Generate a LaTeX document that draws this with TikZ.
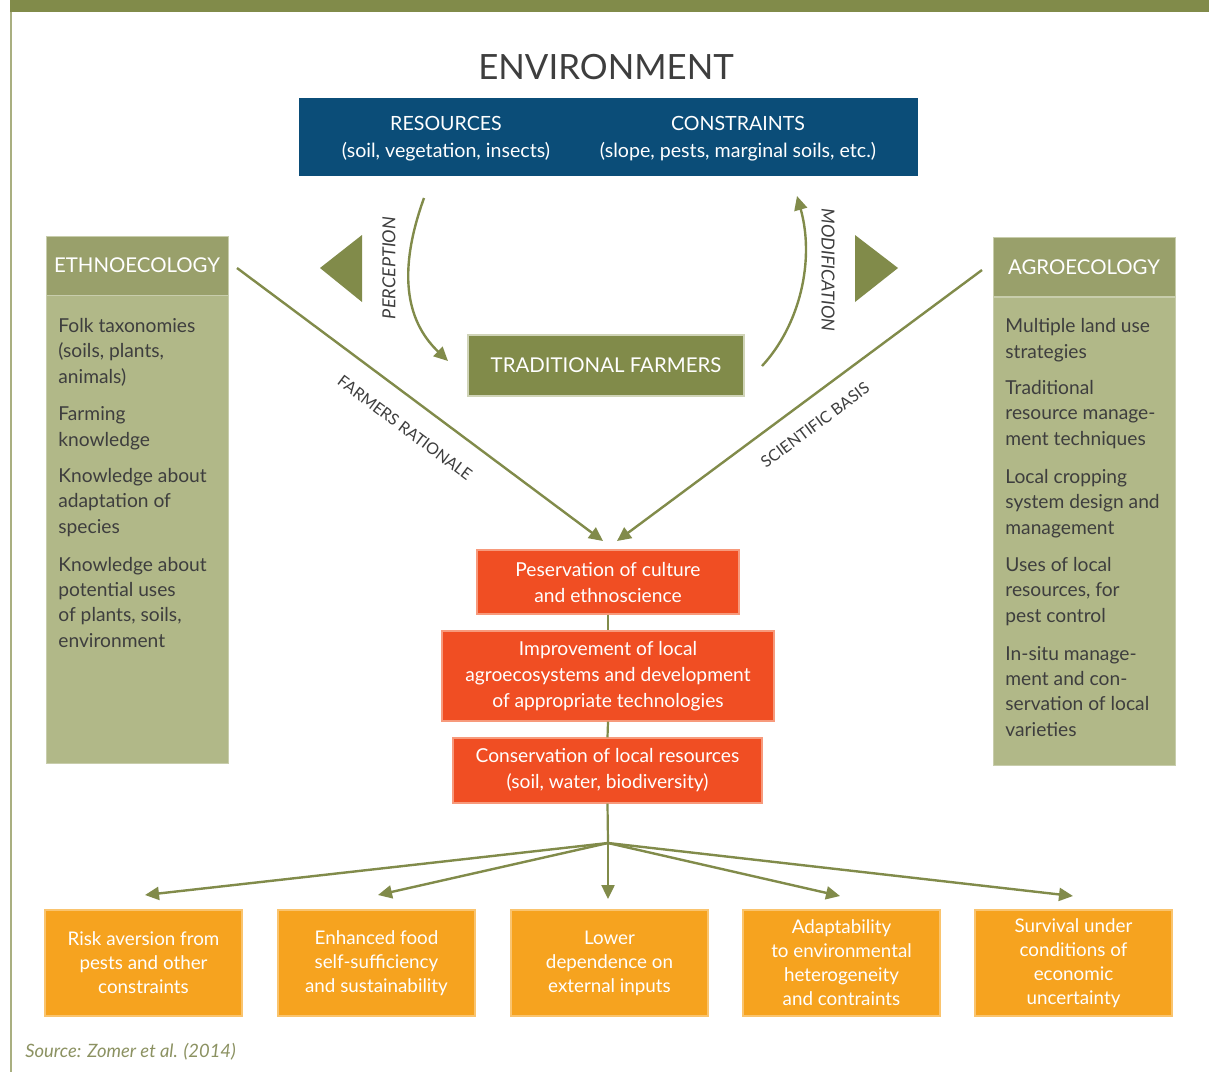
\documentclass[tikz,border=0pt]{standalone}
\usepackage{fontspec}
\setmainfont{Lato}
\usetikzlibrary{arrows.meta}
\definecolor{olivedark}{HTML}{818B4A}
\definecolor{olivehead}{HTML}{99A06B}
\definecolor{olivebody}{HTML}{B1B888}
\definecolor{oliveline}{HTML}{A9AF80}
\definecolor{envblue}{HTML}{0B4D78}
\definecolor{redbox}{HTML}{F04E23}
\definecolor{redline}{HTML}{F79A7C}
\definecolor{orbox}{HTML}{F6A31F}
\definecolor{orline}{HTML}{FAC46E}
\definecolor{txtgray}{HTML}{3E3E3E}
\definecolor{srcgray}{HTML}{8C9262}
\tikzset{
  arr/.style={draw=olivedark, line width=1.2pt, -{Triangle[width=6.5pt,length=7pt]}},
  plainline/.style={draw=olivedark, line width=1.1pt},
  redbx/.style={fill=redbox, draw=redline, line width=0.6pt, text=white, align=center, inner sep=0pt,
    font=\fontsize{9.6}{13}\selectfont},
  orbx/.style={fill=orbox, draw=orline, line width=0.6pt, text=white, align=center, inner sep=0pt,
    minimum width=98.5pt, minimum height=53pt, font=\fontsize{9.4}{12}\selectfont},
  headbx/.style={fill=olivehead, draw=olivebody!70!white, line width=0.5pt, text=white, inner sep=0pt,
    minimum width=91pt, minimum height=29.5pt, font=\fontsize{10.2}{12}\selectfont},
  bodybx/.style={fill=olivebody, draw=olivebody!70!white, line width=0.5pt, inner sep=0pt,
    minimum width=91pt, minimum height=234pt},
  item/.style={anchor=base west, align=left, inner sep=0pt, text=txtgray,
    font=\fontsize{9.6}{12.6}\selectfont},
  lbl/.style={text=txtgray, inner sep=0pt, font=\fontsize{8}{10}\selectfont},
  whitetxt/.style={text=white, inner sep=0pt, align=center, font=\fontsize{9.8}{13.5}\selectfont},
}
\begin{document}
\begin{tikzpicture}[x=0.5pt,y=-0.5pt]
\useasboundingbox (0,0) rectangle (1209,1072);
\fill[white] (0,0) rectangle (1209,1072);
% frame
\fill[olivedark] (10,0) rectangle (1209,12);
\draw[oliveline, line width=1pt] (11,12) -- (11,1072);

% environment
\node[text=txtgray, inner sep=0pt, font=\fontsize{17.4}{20}\selectfont] (env) at (606,67) {ENVIRONMENT};
\node[fill=envblue, minimum width=309.5pt, minimum height=39pt, inner sep=0pt] (blue) at (608.5,137) {};
\node[whitetxt] (res) at (446,139) {RESOURCES\\(soil, vegetation, insects)};
\node[whitetxt] (con) at (738,139) {CONSTRAINTS\\(slope, pests, marginal soils, etc.)};

% triangles
\fill[olivedark] (320,268) -- (362,235) -- (362,302) -- cycle;
\fill[olivedark] (855,235) -- (898,268) -- (855,302) -- cycle;

% traditional farmers
\node[fill=olivedark, draw=olivebody!60!white, line width=0.6pt, minimum width=138pt, minimum height=30.5pt,
  inner sep=0pt, text=white, font=\fontsize{10.2}{12}\selectfont] (tf) at (606,365.5) {TRADITIONAL FARMERS};

% perception / modification
\coordinate (ps) at (424,198);
\coordinate (pe) at (448,361);
\draw[arr] (ps) .. controls (398,270) and (405,320) .. (pe);
\node[lbl, rotate=90, font=\fontsize{9}{10}\selectfont\itshape] (perc) at (389,268) {PERCEPTION};
\coordinate (ms) at (762,366);
\coordinate (me) at (797,196);
\draw[arr] (ms) .. controls (800,325) and (815,260) .. (me);
\node[lbl, rotate=-90, font=\fontsize{9}{10}\selectfont\itshape] (modi) at (828,270) {MODIFICATION};

% ethnoecology panel
\node[bodybx] (eb) at (137,529) {};
\node[headbx] (eh) at (137,265.5) {ETHNOECOLOGY};
\node[item] (e1) at (58,383) {Folk taxonomies\\(soils, plants,\\animals)};
\node[item] (e2) at (58,446) {Farming\\knowledge};
\node[item] (e3) at (58,533) {Knowledge about\\adaptation of\\species};
\node[item] (e4) at (58,647) {Knowledge about\\potential uses\\of plants, soils,\\environment};

% agroecology panel
\node[bodybx] (ab) at (1084,531) {};
\node[headbx] (ah) at (1084,267) {AGROECOLOGY};
\node[item] (a1) at (1005,358) {Multiple land use\\strategies};
\node[item] (a2) at (1005,445) {Traditional\\resource manage-\\ment techniques};
\node[item] (a3) at (1005,534) {Local cropping\\system design and\\management};
\node[item] (a4) at (1005,622) {Uses of local\\resources, for\\pest control};
\node[item] (a5) at (1005,736) {In-situ manage-\\ment and con-\\servation of local\\varieties};

% red boxes
\node[redbx, minimum width=131pt, minimum height=32pt] (r1) at (608,582) {Peservation of culture\\and ethnoscience};
\node[redbx, minimum width=166pt, minimum height=45pt] (r2) at (608,676) {Improvement of local\\agroecosystems and development\\of appropriate technologies};
\node[redbx, minimum width=154.5pt, minimum height=32.5pt] (r3) at (607.5,770.5) {Conservation of local resources\\(soil, water, biodiversity)};
\draw[plainline] (r1.south) -- (r2.north);
\draw[plainline] (r2.south) -- (r3.north);

% diagonal arrows
\coordinate (fs) at (237,268);
\coordinate (fe) at (603,541);
\draw[arr] (fs) -- (fe);
\node[lbl, rotate=-36.8] (frl) at (405,428) {FARMERS RATIONALE};
\coordinate (ss) at (982,270);
\coordinate (se) at (617,541);
\draw[arr] (ss) -- (se);
\node[lbl, rotate=36.7] (sbl) at (815,425) {SCIENTIFIC BASIS};

% bottom fan
\coordinate (j) at (608,843);
\draw[plainline] (r3.south) -- (j);
\coordinate (t1) at (145,895);
\coordinate (t2) at (378,895);
\coordinate (t3) at (608,899);
\coordinate (t4) at (840,896);
\coordinate (t5) at (1073,896);
\foreach \t in {t1,t2,t3,t4,t5} \draw[arr] (j) -- (\t);

% orange boxes
\node[orbx] (o1) at (143.5,963) {Risk aversion from\\pests and other\\constraints};
\node[orbx] (o2) at (376.5,963) {Enhanced food\\self-sufficiency\\and sustainability};
\node[orbx] (o3) at (609.5,963) {Lower\\dependence on\\external inputs};
\node[orbx] (o4) at (841.5,963) {Adaptability\\to environmental\\heterogeneity\\and contraints};
\node[orbx] (o5) at (1073.5,963) {Survival under\\conditions of\\economic\\uncertainty};

% source
\node[anchor=base west, inner sep=0pt, text=srcgray, font=\fontsize{9.2}{11}\selectfont\itshape] (src) at (25,1057) {Source: Zomer et al. (2014)};
\end{tikzpicture}
\end{document}
